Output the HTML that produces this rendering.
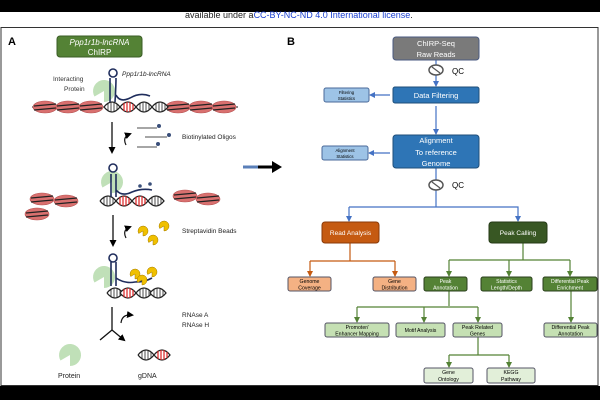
<!DOCTYPE html>
<html><head><meta charset="utf-8"><style>
html,body{margin:0;padding:0;background:#fff}
svg{display:block}
text{font-family:"Liberation Sans",sans-serif}
</style></head><body>
<svg width="600" height="400" viewBox="0 0 600 400" xmlns="http://www.w3.org/2000/svg">
<defs>
<marker id="ab" markerUnits="userSpaceOnUse" markerWidth="6" markerHeight="6" refX="5" refY="3" orient="auto"><path d="M0,0 L6,3 L0,6 z" fill="#4472c4"/></marker>
<marker id="ao" markerUnits="userSpaceOnUse" markerWidth="6" markerHeight="6" refX="5" refY="3" orient="auto"><path d="M0,0 L6,3 L0,6 z" fill="#c55a11"/></marker>
<marker id="ag" markerUnits="userSpaceOnUse" markerWidth="6" markerHeight="6" refX="5" refY="3" orient="auto"><path d="M0,0 L6,3 L0,6 z" fill="#548235"/></marker>
<marker id="ak" markerUnits="userSpaceOnUse" markerWidth="7" markerHeight="7" refX="5" refY="3.5" orient="auto"><path d="M0,0 L7,3.5 L0,7 z" fill="#000"/></marker>
<g id="nuc"><ellipse cx="0" cy="0" rx="12" ry="6" fill="#d9706f" stroke="#b55050" stroke-width="0.6"/><path d="M-11,-1 L11,-3 M-11,3 L11,1" stroke="#222" stroke-width="1.2"/></g>
<g id="eye"><path d="M0,0 Q8,-10 16,0 Q8,10 0,0" fill="#fff" stroke="#222" stroke-width="1.3"/><path d="M4,-4 V4 M7,-5 V5 M10,-5 V5 M13,-3 V3" stroke="#222" stroke-width="0.8"/></g>
<g id="eyer"><path d="M0,0 Q8,-10 16,0 Q8,10 0,0" fill="#fff" stroke="#222" stroke-width="1.3"/><path d="M4,-4 V4 M7,-5 V5 M10,-5 V5 M13,-3 V3" stroke="#d22" stroke-width="1.2"/></g>
<g id="prot"><path d="M0,0 L-9.5,5.5 A11,11 0 1 1 0,11 Z" fill="#b9ddb0" opacity="0.9"/></g>
<g id="bead"><path d="M0,0 L-4.3,2.5 A5,5 0 1 1 0,5 Z" fill="#f0c000" stroke="#a07800" stroke-width="0.5"/></g>
</defs>
<rect x="0" y="0" width="600" height="12" fill="#000"/>
<rect x="0" y="386" width="600" height="14" fill="#000"/>
<text x="185" y="18" font-size="9" fill="#222">available under a<tspan fill="#1a3fd0">CC-BY-NC-ND 4.0 International license</tspan>.</text>
<rect x="1" y="27.5" width="597" height="358" fill="#fff" stroke="#333" stroke-width="1"/>
<text x="8" y="45" font-size="11" font-weight="bold">A</text>
<text x="287" y="45" font-size="11" font-weight="bold">B</text>

<!-- Panel A -->
<rect x="57" y="36" width="85" height="21" rx="3" fill="#548235" stroke="#3a5c25"/>
<text x="99.5" y="45" font-size="8" fill="#fff" text-anchor="middle" font-style="italic">Ppp1r1b-lncRNA</text>
<text x="99.5" y="55" font-size="8" fill="#fff" text-anchor="middle">ChIRP</text>
<text x="53" y="81" font-size="6.5" fill="#333">Interacting</text>
<text x="64" y="91" font-size="6.5" fill="#333">Protein</text>
<text x="122" y="76" font-size="6.5" fill="#222" font-style="italic">Ppp1r1b-lncRNA</text>
<!-- row1 -->
<line x1="32" y1="107" x2="238" y2="107" stroke="#111" stroke-width="1"/>
<use href="#nuc" x="45" y="107"/><use href="#nuc" x="68" y="107"/><use href="#nuc" x="91" y="107"/>
<use href="#nuc" x="178" y="107"/><use href="#nuc" x="201" y="107"/><use href="#nuc" x="224" y="107"/>
<use href="#prot" x="104" y="91"/>
<use href="#eye" x="104" y="107"/><use href="#eyer" x="120" y="107"/><use href="#eye" x="136" y="107"/><use href="#eye" x="152" y="107"/>
<path d="M110,102 V78 M115,102 Q116,85 116,78 M116,95 Q120,103 130,98 Q140,92 150,96" fill="none" stroke="#1f2d5c" stroke-width="1.6"/>
<circle cx="113" cy="73" r="4" fill="#fff" stroke="#1f2d5c" stroke-width="1.6"/>
<!-- oligos -->
<g stroke="#888" stroke-width="1.5"><line x1="137" y1="128" x2="157" y2="128"/><line x1="145" y1="137" x2="167" y2="137"/><line x1="137" y1="147" x2="157" y2="147"/></g>
<g fill="#3a4f7a"><circle cx="159" cy="126" r="2"/><circle cx="169" cy="135" r="2"/><circle cx="158" cy="144" r="2"/></g>
<text x="182" y="139" font-size="6.5" fill="#222">Biotinylated Oligos</text>
<line x1="112" y1="122" x2="112" y2="152" stroke="#111" stroke-width="1.3" marker-end="url(#ak)"/>
<path d="M126,145 Q122,137 130,134" fill="none" stroke="#111" stroke-width="1.2" marker-end="url(#ak)"/>
<path d="M243,167 H270" stroke="#5a7fb8" stroke-width="3"/>
<path d="M258,167 H274" stroke="#000" stroke-width="3"/>
<path d="M272,161 L282,167 L272,173 Z" fill="#000"/>
<!-- row2 -->
<use href="#nuc" x="42" y="199"/><use href="#nuc" x="66" y="201"/><use href="#nuc" x="37" y="214"/>
<use href="#nuc" x="185" y="196"/><use href="#nuc" x="208" y="199"/>
<use href="#prot" x="112" y="182"/>
<use href="#eye" x="100" y="201"/><use href="#eyer" x="116" y="201"/><use href="#eyer" x="132" y="201"/><use href="#eye" x="148" y="201"/>
<path d="M111,197 V174 M116,197 V174 M116,190 Q122,197 132,192 Q142,188 152,190" fill="none" stroke="#1f2d5c" stroke-width="1.6"/>
<circle cx="113" cy="168" r="4" fill="#fff" stroke="#1f2d5c" stroke-width="1.6"/>
<g fill="#3a4f7a"><circle cx="140" cy="186" r="1.8"/><circle cx="150" cy="184" r="1.8"/></g>
<line x1="113" y1="215" x2="113" y2="245" stroke="#111" stroke-width="1.3" marker-end="url(#ak)"/>
<path d="M126,238 Q122,230 130,227" fill="none" stroke="#111" stroke-width="1.2" marker-end="url(#ak)"/>
<use href="#bead" x="143" y="231"/><use href="#bead" x="153" y="240"/><use href="#bead" x="164" y="226"/>
<text x="182" y="233" font-size="6.5" fill="#222">Streptavidin Beads</text>
<!-- row3 -->
<use href="#prot" x="104" y="277"/>
<use href="#eye" x="107" y="293"/><use href="#eyer" x="120" y="293"/><use href="#eye" x="136" y="293"/><use href="#eye" x="150" y="293"/>
<path d="M111,286 V262 M116,286 V262 M116,278 Q125,284 135,282 Q145,282 152,278" fill="none" stroke="#1f2d5c" stroke-width="1.6"/>
<circle cx="113" cy="258" r="4" fill="#fff" stroke="#1f2d5c" stroke-width="1.6"/>
<use href="#bead" x="135" y="274"/><use href="#bead" x="142" y="280"/><use href="#bead" x="152" y="272"/>
<line x1="112" y1="307" x2="112" y2="330" stroke="#111" stroke-width="1.3"/>
<path d="M112,330 L100,340 M112,330 L124,340" stroke="#111" stroke-width="1.3" marker-end="url(#ak)"/>
<path d="M121,323 Q122,314 132,315" fill="none" stroke="#111" stroke-width="1.2" marker-end="url(#ak)"/>
<text x="182" y="317" font-size="6.5" fill="#222">RNAse A</text>
<text x="182" y="327" font-size="6.5" fill="#222">RNAse H</text>
<use href="#prot" x="70" y="355"/>
<use href="#eye" x="138" y="355"/><use href="#eyer" x="154" y="355"/>
<text x="58" y="378" font-size="7" fill="#222">Protein</text>
<text x="138" y="378" font-size="7" fill="#222">gDNA</text>

<!-- Panel B -->
<g stroke="#4472c4" stroke-width="1.2" fill="none">
<line x1="436" y1="60" x2="436" y2="86" marker-end="url(#ab)"/>
<line x1="436" y1="106" x2="436" y2="134" marker-end="url(#ab)"/>
<line x1="390" y1="95" x2="370" y2="95" marker-end="url(#ab)"/>
<line x1="390" y1="153" x2="369" y2="153" marker-end="url(#ab)"/>
<line x1="436" y1="168" x2="436" y2="207"/>
<path d="M349,207 H518 V221" marker-end="url(#ab)"/>
<line x1="349" y1="207" x2="349" y2="221" marker-end="url(#ab)"/>
</g>
<g fill="#fff" stroke="#555" stroke-width="1.5"><ellipse cx="436" cy="70" rx="7" ry="5"/><ellipse cx="436" cy="185" rx="7" ry="5"/></g>
<g stroke="#555" stroke-width="1.2"><line x1="432" y1="67" x2="440" y2="73"/><line x1="432" y1="182" x2="440" y2="188"/></g>
<text x="452" y="74" font-size="8">QC</text>
<text x="452" y="188" font-size="8">QC</text>
<rect x="393" y="37" width="86" height="23" rx="3" fill="#7a7a7a" stroke="#4a5a80"/>
<text x="436" y="46" font-size="7.5" fill="#fff" text-anchor="middle">ChIRP-Seq</text>
<text x="436" y="57" font-size="7.5" fill="#fff" text-anchor="middle">Raw Reads</text>
<rect x="393" y="87" width="86" height="16" rx="2" fill="#2e75b6" stroke="#1f4e79"/>
<text x="436" y="98" font-size="7.5" fill="#fff" text-anchor="middle">Data Filtering</text>
<rect x="393" y="135" width="86" height="33" rx="3" fill="#2e75b6" stroke="#1f4e79"/>
<text x="436" y="143" font-size="7.5" fill="#fff" text-anchor="middle">Alignment</text>
<text x="436" y="155" font-size="7.5" fill="#fff" text-anchor="middle">To reference</text>
<text x="436" y="166" font-size="7.5" fill="#fff" text-anchor="middle">Genome</text>
<rect x="324" y="88" width="45" height="14" rx="2" fill="#9dc3e6" stroke="#4a6a9a"/>
<text x="346.5" y="94" font-size="4.3" text-anchor="middle">Filtering</text><text x="346.5" y="100" font-size="4.3" text-anchor="middle">Statistics</text>
<rect x="322" y="146" width="46" height="14" rx="2" fill="#9dc3e6" stroke="#4a6a9a"/>
<text x="345" y="152" font-size="4.3" text-anchor="middle">Alignment</text><text x="345" y="158" font-size="4.3" text-anchor="middle">Statistics</text>

<g stroke="#c55a11" stroke-width="1.2" fill="none">
<line x1="350" y1="243" x2="350" y2="261"/>
<path d="M310,261 H395"/>
<line x1="310" y1="261" x2="310" y2="276" marker-end="url(#ao)"/>
<line x1="395" y1="261" x2="395" y2="276" marker-end="url(#ao)"/>
</g>
<g stroke="#548235" stroke-width="1.2" fill="none">
<line x1="523" y1="243" x2="523" y2="260"/>
<path d="M449,260 H570"/>
<line x1="449" y1="260" x2="449" y2="276" marker-end="url(#ag)"/>
<line x1="509" y1="260" x2="509" y2="276" marker-end="url(#ag)"/>
<line x1="570" y1="260" x2="570" y2="276" marker-end="url(#ag)"/>
<line x1="449" y1="291" x2="449" y2="306"/>
<path d="M357,307 H478"/>
<line x1="357" y1="307" x2="357" y2="322" marker-end="url(#ag)"/>
<line x1="424" y1="307" x2="424" y2="322" marker-end="url(#ag)"/>
<line x1="478" y1="307" x2="478" y2="322" marker-end="url(#ag)"/>
<line x1="478" y1="337" x2="478" y2="355"/>
<path d="M449,355 H509"/>
<line x1="449" y1="355" x2="449" y2="367" marker-end="url(#ag)"/>
<line x1="509" y1="355" x2="509" y2="367" marker-end="url(#ag)"/>
<line x1="571" y1="291" x2="571" y2="322" marker-end="url(#ag)"/>
</g>
<rect x="322" y="222" width="57" height="21" rx="3" fill="#c55a11" stroke="#8a3a08"/>
<text x="350.5" y="235" font-size="6.5" fill="#fff" text-anchor="middle">Read Analysis</text>
<rect x="489" y="222" width="58" height="21" rx="3" fill="#385723" stroke="#243a16"/>
<text x="518" y="235" font-size="6.5" fill="#fff" text-anchor="middle">Peak Calling</text>
<g font-size="5.2" text-anchor="middle">
<rect x="288" y="277" width="43" height="14" rx="2" fill="#f4b183" stroke="#556"/>
<text x="309.5" y="283">Genome</text><text x="309.5" y="289.5">Coverage</text>
<rect x="373" y="277" width="43" height="14" rx="2" fill="#f4b183" stroke="#556"/>
<text x="394.5" y="283">Gene</text><text x="394.5" y="289.5">Distribution</text>
<g fill="#fff">
<rect x="424" y="277" width="43" height="14" rx="2" fill="#548235" stroke="#2a3f1c"/>
<text x="445.5" y="283">Peak</text><text x="445.5" y="289.5">Annotation</text>
<rect x="481" y="277" width="51" height="14" rx="2" fill="#548235" stroke="#2a3f1c"/>
<text x="506.5" y="283">Statistics</text><text x="506.5" y="289.5">Length/Depth</text>
<rect x="543" y="277" width="54" height="14" rx="2" fill="#548235" stroke="#2a3f1c"/>
<text x="570" y="283">Differential Peak</text><text x="570" y="289.5">Enrichment</text>
</g>
<rect x="325" y="323" width="64" height="14" rx="2" fill="#c5e0b3" stroke="#556"/>
<text x="357" y="329">Promoter/</text><text x="357" y="335.5">Enhancer Mapping</text>
<rect x="396" y="323" width="49" height="14" rx="2" fill="#c5e0b3" stroke="#556"/>
<text x="420.5" y="332">Motif Analysis</text>
<rect x="453" y="323" width="49" height="14" rx="2" fill="#c5e0b3" stroke="#556"/>
<text x="477.5" y="329">Peak Related</text><text x="477.5" y="335.5">Genes</text>
<rect x="544" y="323" width="53" height="14" rx="2" fill="#c5e0b3" stroke="#556"/>
<text x="570.5" y="329">Differential Peak</text><text x="570.5" y="335.5">Annotation</text>
<rect x="424" y="368" width="49" height="15" rx="2" fill="#e2efd9" stroke="#556"/>
<text x="448.5" y="374">Gene</text><text x="448.5" y="381">Ontology</text>
<rect x="487" y="368" width="48" height="15" rx="2" fill="#e2efd9" stroke="#556"/>
<text x="511" y="374">KEGG</text><text x="511" y="381">Pathway</text>
</g>
</svg>
</body></html>
